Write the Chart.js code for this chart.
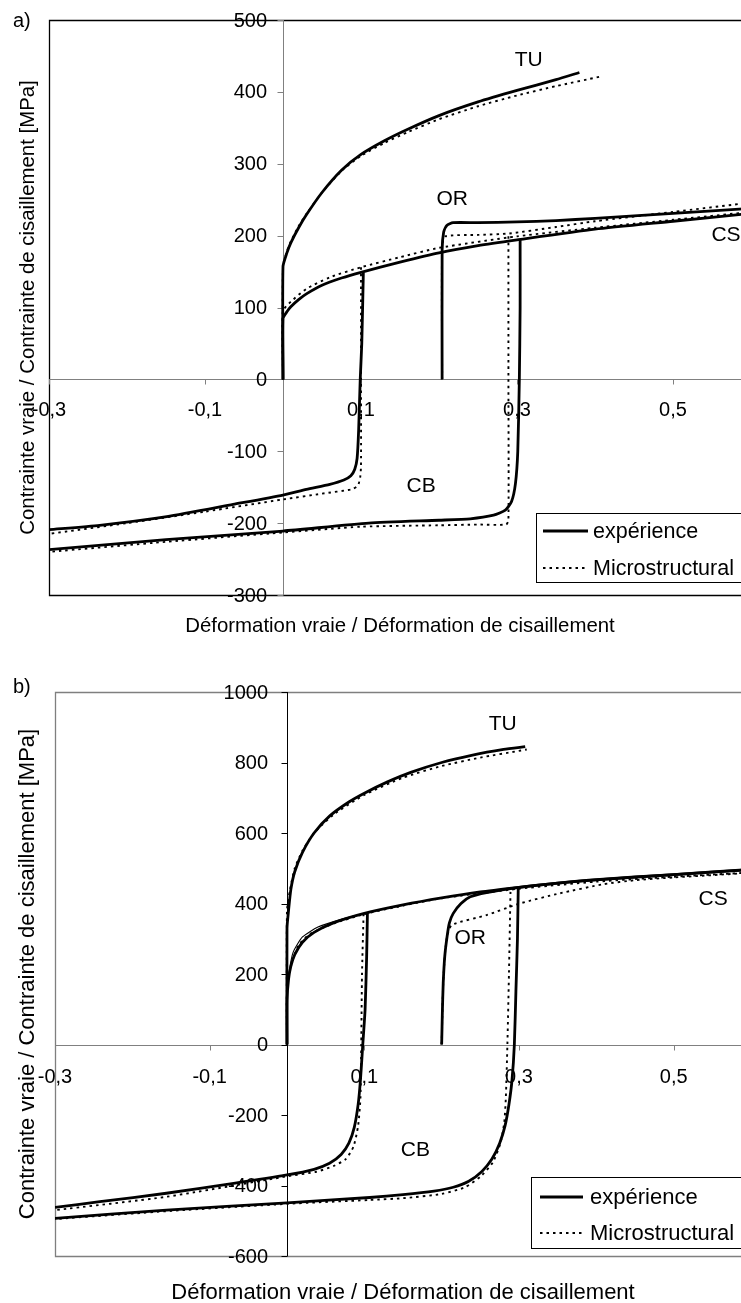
<!DOCTYPE html>
<html lang="fr">
<head>
<meta charset="utf-8">
<title>Contrainte vraie / Déformation vraie</title>
<script src="https://cdn.jsdelivr.net/npm/chart.js@4.4.1/dist/chart.umd.min.js"></script>
<style>
  html, body { margin: 0; padding: 0; background: #fff; overflow: hidden; width: 741px; height: 1303px; }
  canvas { position: absolute; left: 0; }
  #chartA { top: 0; }
  #chartB { top: 650px; }
</style>
</head>
<body>
<canvas id="chartA" width="752" height="650"></canvas>
<canvas id="chartB" width="752" height="653"></canvas>
<script>
// Axis ticks
const xTicks = [-0.3, -0.1, 0.1, 0.3, 0.5]
const xTickLabels = ["-0,3", "-0,1", "0,1", "0,3", "0,5"]
const yTicksA = [-300, -200, -100, 0, 100, 200, 300, 400, 500]
const yTicksB = [-600, -400, -200, 0, 200, 400, 600, 800, 1000]

// a) [strain, stress MPa] - experiment / microstructural model
const tuExpA = [[0, 0], [0, 157], [0.005, 176], [0.01, 190], [0.02, 211], [0.03, 229], [0.05, 260], [0.075, 291], [0.1, 313], [0.13, 332], [0.16, 348], [0.2, 367], [0.25, 386], [0.3, 402], [0.35, 417], [0.38, 427]]
const tuModA = [[0, 0], [0, 157], [0.005, 178], [0.01, 192], [0.02, 213], [0.03, 230], [0.05, 260], [0.075, 290], [0.1, 311], [0.13, 329], [0.16, 344], [0.2, 362], [0.25, 380], [0.3, 395], [0.35, 408], [0.406, 421]]
const csExpA = [[0, 0], [0, 85], [0.005, 94], [0.01, 101], [0.02, 111], [0.03, 119], [0.05, 131], [0.075, 141], [0.1, 149], [0.15, 163], [0.2, 176], [0.25, 186], [0.3, 194], [0.4, 209], [0.5, 220], [0.6, 231]]
const csModA = [[0, 0], [0, 95], [0.01, 108], [0.03, 126], [0.06, 142], [0.1, 156], [0.15, 170], [0.2, 183], [0.3, 199], [0.4, 211], [0.5, 222], [0.6, 233]]
const orExpA = [[0.204, 0], [0.204, 180], [0.206, 205], [0.21, 214], [0.218, 218], [0.25, 218], [0.3, 219], [0.35, 221], [0.4, 224], [0.5, 231], [0.6, 238]]
const orModA = [[0.204, 0], [0.204, 185], [0.208, 199], [0.25, 201], [0.29, 203], [0.35, 212], [0.4, 220], [0.5, 233], [0.6, 246]]
const cb1ExpA = [[0.103, 148], [0.101, 50], [0.099, 0], [0.097, -70], [0.095, -110], [0.092, -125], [0.087, -134], [0.078, -140], [0.06, -146], [0.03, -153], [0, -161], [-0.064, -174], [-0.149, -191], [-0.235, -203], [-0.3, -209]]
const cb1ModA = [[0.1, 156], [0.1, 0], [0.1, -120], [0.099, -136], [0.096, -148], [0.088, -153], [0.05, -159], [0, -167], [-0.1, -184], [-0.2, -200], [-0.3, -215]]
const cb2ExpA = [[0.304, 194], [0.304, 100], [0.303, 0], [0.301, -100], [0.298, -145], [0.293, -170], [0.285, -182], [0.27, -189], [0.24, -194], [0.2, -196], [0.11, -200], [0, -211], [-0.15, -223], [-0.3, -237]]
const cb2ModA = [[0.289, 199], [0.289, 0], [0.289, -196], [0.286, -202], [0.25, -202], [0.2, -203], [0.1, -205], [0, -213], [-0.15, -226], [-0.3, -240]]

// b) [strain, stress MPa]
const tuExpB = [[0, 0], [0, 330], [0.002, 380], [0.005, 440], [0.01, 490], [0.02, 545], [0.035, 600], [0.055, 648], [0.08, 688], [0.1, 713], [0.13, 745], [0.16, 772], [0.2, 800], [0.24, 821], [0.28, 837], [0.308, 845]]
const tuModB = [[0, 0], [0, 380], [0.004, 440], [0.01, 500], [0.02, 550], [0.035, 600], [0.06, 652], [0.1, 708], [0.15, 757], [0.2, 790], [0.25, 814], [0.3, 833], [0.31, 837]]
const csExpB = [[0, 0], [0, 126], [0.002, 185], [0.005, 222], [0.01, 255], [0.02, 290], [0.035, 318], [0.06, 345], [0.1, 372], [0.15, 396], [0.2, 416], [0.25, 433], [0.3, 446], [0.35, 458], [0.4, 468], [0.5, 482], [0.6, 496]]
const csLoadB = [[0, 0], [0, 150], [0.003, 210], [0.008, 262], [0.02, 305], [0.04, 333], [0.07, 355], [0.103, 374]]
const csModB = [[0, 0], [0, 150], [0.005, 222], [0.015, 282], [0.03, 314], [0.06, 343], [0.1, 370], [0.15, 394], [0.2, 415], [0.3, 442], [0.4, 462], [0.5, 476], [0.6, 488]]
const orExpB = [[0.2, 0], [0.201, 100], [0.202, 174], [0.204, 250], [0.207, 306], [0.21, 345], [0.215, 372], [0.225, 400], [0.237, 419], [0.258, 431], [0.3, 446], [0.35, 458], [0.4, 467], [0.5, 482], [0.6, 497]]
const orModB = [[0.2, 0], [0.201, 100], [0.202, 174], [0.204, 250], [0.207, 306], [0.213, 339], [0.258, 367], [0.301, 400], [0.353, 429], [0.41, 455], [0.45, 466], [0.5, 474], [0.6, 487]]
const cb1ExpB = [[0.104, 374], [0.103, 250], [0.101, 100], [0.098, 0], [0.095, -100], [0.092, -170], [0.087, -235], [0.08, -280], [0.07, -312], [0.055, -337], [0.035, -354], [0, -370], [-0.069, -394], [-0.156, -422], [-0.242, -446], [-0.3, -462]]
const cb1ModB = [[0.099, 370], [0.097, 200], [0.096, 0], [0.095, -150], [0.092, -230], [0.086, -290], [0.076, -325], [0.06, -345], [0.038, -361], [0, -374], [-0.156, -432], [-0.3, -470]]
const cb2ExpB = [[0.299, 443], [0.298, 300], [0.296, 150], [0.294, 0], [0.291, -100], [0.287, -170], [0.282, -230], [0.275, -280], [0.265, -325], [0.252, -360], [0.235, -388], [0.215, -405], [0.19, -416], [0.15, -426], [0.107, -434], [0, -449], [-0.156, -470], [-0.3, -493]]
const cb2ModB = [[0.289, 433], [0.287, 200], [0.285, 0], [0.283, -150], [0.281, -220], [0.276, -280], [0.266, -335], [0.25, -375], [0.23, -405], [0.2, -424], [0.15, -436], [0.107, -441], [0, -452], [-0.15, -472], [-0.3, -495]]

// Curve labels, in data units
const curveLabelsA = [["TU", 0.315, 444], ["OR", 0.217, 250], ["CS", 0.568, 200], ["CB", 0.177, -148]]
const curveLabelsB = [["TU", 0.279, 909], ["OR", 0.237, 302], ["CS", 0.551, 413], ["CB", 0.166, -299]]

const legendLabels = ["expérience", "Microstructural"]
const xTitle = "Déformation vraie / Déformation de cisaillement"
const yTitle = "Contrainte vraie / Contrainte de cisaillement [MPa]"

const FONT = '"Liberation Sans", Arial, sans-serif'
const DOTS = [2.5, 4]

function toXY(points) {
  return points.map(([x, y]) => ({ x, y }))
}

function expSet(points, width = 2.8) {
  return { data: toXY(points), showLine: true, borderColor: "#000", borderWidth: width, pointRadius: 0, tension: 0.2, fill: false }
}

function modSet(points) {
  return { data: toXY(points), showLine: true, borderColor: "#000", borderWidth: 1.9, borderDash: DOTS, pointRadius: 0, tension: 0.2, fill: false }
}

// Frame, centred zero axes, ticks, titles, labels and legend box
function framePlugin(cfg) {
  return {
    id: "plotFrame",
    beforeDatasetsDraw(chart) {
      const { ctx, chartArea: a, scales } = chart
      const x0 = Math.round(scales.x.getPixelForValue(0)) + 0.5
      const y0 = Math.round(scales.y.getPixelForValue(0)) + 0.5
      ctx.save()
      // outer frame
      ctx.strokeStyle = cfg.frameColor
      ctx.lineWidth = cfg.frameWidth
      ctx.beginPath()
      ctx.moveTo(a.right, Math.round(a.top) + 0.5)
      ctx.lineTo(Math.round(a.left) + 0.5, Math.round(a.top) + 0.5)
      ctx.lineTo(Math.round(a.left) + 0.5, Math.round(a.bottom) + 0.5)
      ctx.lineTo(a.right, Math.round(a.bottom) + 0.5)
      ctx.stroke()
      // x axis through y = 0
      ctx.lineWidth = 1
      ctx.strokeStyle = cfg.xAxisColor
      ctx.beginPath()
      ctx.moveTo(a.left, y0)
      ctx.lineTo(a.right, y0)
      xTicks.forEach((v) => {
        const px = Math.round(scales.x.getPixelForValue(v)) + 0.5
        ctx.moveTo(px, y0)
        ctx.lineTo(px, y0 + 5)
      })
      ctx.stroke()
      // y axis through x = 0
      ctx.strokeStyle = cfg.yAxisColor
      ctx.beginPath()
      ctx.moveTo(x0, a.top)
      ctx.lineTo(x0, a.bottom)
      cfg.yTicks.forEach((v) => {
        const py = Math.round(scales.y.getPixelForValue(v)) + 0.5
        ctx.moveTo(x0, py)
        ctx.lineTo(x0 - 6, py)
      })
      ctx.stroke()
      ctx.restore()
    },
    afterDatasetsDraw(chart) {
      const { ctx, chartArea: a, scales } = chart
      const x0 = scales.x.getPixelForValue(0)
      const y0 = scales.y.getPixelForValue(0)
      ctx.save()
      ctx.fillStyle = "#000"

      // tick labels
      ctx.font = `${cfg.tickSize}px ${FONT}`
      ctx.textAlign = "right"
      ctx.textBaseline = "middle"
      cfg.yTicks.forEach((v) => {
        ctx.fillText(String(v), x0 - cfg.yLabelGap, scales.y.getPixelForValue(v) + 1)
      })
      ctx.textAlign = "center"
      xTicks.forEach((v, i) => {
        ctx.fillText(xTickLabels[i], scales.x.getPixelForValue(v), y0 + cfg.xLabelGap)
      })

      // curve names
      ctx.font = `${cfg.curveSize}px ${FONT}`
      cfg.curveLabels.forEach(([t, x, y]) => {
        ctx.fillText(t, scales.x.getPixelForValue(x), scales.y.getPixelForValue(y))
      })

      // axis titles
      ctx.font = `${cfg.titleSize}px ${FONT}`
      ctx.fillText(xTitle, (a.left + a.right) / 2, cfg.xTitleY)
      ctx.save()
      ctx.translate(cfg.yTitleX, (a.top + a.bottom) / 2)
      ctx.rotate(-Math.PI / 2)
      ctx.fillText(yTitle, 0, 0)
      ctx.restore()

      // panel tag
      ctx.textAlign = "left"
      ctx.textBaseline = "alphabetic"
      ctx.font = `${cfg.tagSize}px ${FONT}`
      ctx.fillText(cfg.tag, 13, cfg.tagY)

      // legend box
      const L = cfg.legend
      ctx.fillStyle = "#fff"
      ctx.fillRect(L.x, L.y, 260, L.h)
      ctx.strokeStyle = "#000"
      ctx.lineWidth = 1
      ctx.strokeRect(L.x + 0.5, L.y + 0.5, 260, L.h)
      ctx.lineWidth = 2.8
      ctx.beginPath()
      ctx.moveTo(L.x + L.lineX0, L.row1)
      ctx.lineTo(L.x + L.lineX1, L.row1)
      ctx.stroke()
      ctx.lineWidth = 1.9
      ctx.setLineDash(DOTS)
      ctx.beginPath()
      ctx.moveTo(L.x + L.lineX0, L.row2)
      ctx.lineTo(L.x + L.lineX1, L.row2)
      ctx.stroke()
      ctx.setLineDash([])
      ctx.fillStyle = "#000"
      ctx.font = `${L.size}px ${FONT}`
      ctx.textBaseline = "middle"
      ctx.fillText(legendLabels[0], L.x + L.textX, L.row1 + 1)
      ctx.fillText(legendLabels[1], L.x + L.textX, L.row2 + 1)
      ctx.restore()
    },
  }
}

function makeChart(canvasId, datasets, yMin, yMax, padding, cfg) {
  const ctx = document.getElementById(canvasId).getContext("2d")
  return new Chart(ctx, {
    type: "scatter",
    data: { datasets },
    options: {
      responsive: false,
      animation: false,
      devicePixelRatio: 1,
      layout: { padding },
      scales: {
        x: { type: "linear", min: -0.3, max: 0.6, display: false },
        y: { type: "linear", min: yMin, max: yMax, display: false },
      },
      plugins: { legend: { display: false }, tooltip: { enabled: false } },
    },
    plugins: [framePlugin(cfg)],
  })
}

const chartA = makeChart(
  "chartA",
  [
    modSet(tuModA), modSet(csModA), modSet(orModA), modSet(cb1ModA), modSet(cb2ModA),
    expSet(tuExpA), expSet(csExpA), expSet(orExpA), expSet(cb1ExpA), expSet(cb2ExpA),
  ],
  -300, 500,
  { left: 49, top: 20, right: 1, bottom: 55 },
  {
    tag: "a)", tagY: 27, tagSize: 20,
    frameColor: "#000", frameWidth: 1.3, xAxisColor: "#808080", yAxisColor: "#808080",
    yTicks: yTicksA, tickSize: 20, yLabelGap: 16, xLabelGap: 31,
    curveLabels: curveLabelsA, curveSize: 21,
    titleSize: 20.4, xTitleY: 626, yTitleX: 28,
    legend: { x: 536, y: 513, h: 69, lineX0: 7, lineX1: 52, textX: 57, row1: 531, row2: 568, size: 21.5 },
  }
)

const chartB = makeChart(
  "chartB",
  [
    modSet(tuModB), modSet(csModB), modSet(orModB), modSet(cb1ModB), modSet(cb2ModB),
    expSet(csLoadB, 1.1),
    expSet(tuExpB), expSet(csExpB), expSet(orExpB), expSet(cb1ExpB), expSet(cb2ExpB),
  ],
  -600, 1000,
  { left: 55, top: 42, right: 1, bottom: 47 },
  {
    tag: "b)", tagY: 43, tagSize: 20,
    frameColor: "#7f7f7f", frameWidth: 1.3, xAxisColor: "#808080", yAxisColor: "#000",
    yTicks: yTicksB, tickSize: 20, yLabelGap: 19, xLabelGap: 33,
    curveLabels: curveLabelsB, curveSize: 21,
    titleSize: 22, xTitleY: 643, yTitleX: 28,
    legend: { x: 531, y: 527, h: 71, lineX0: 9, lineX1: 52, textX: 59, row1: 547, row2: 583, size: 22 },
  }
)
</script>
</body>
</html>
